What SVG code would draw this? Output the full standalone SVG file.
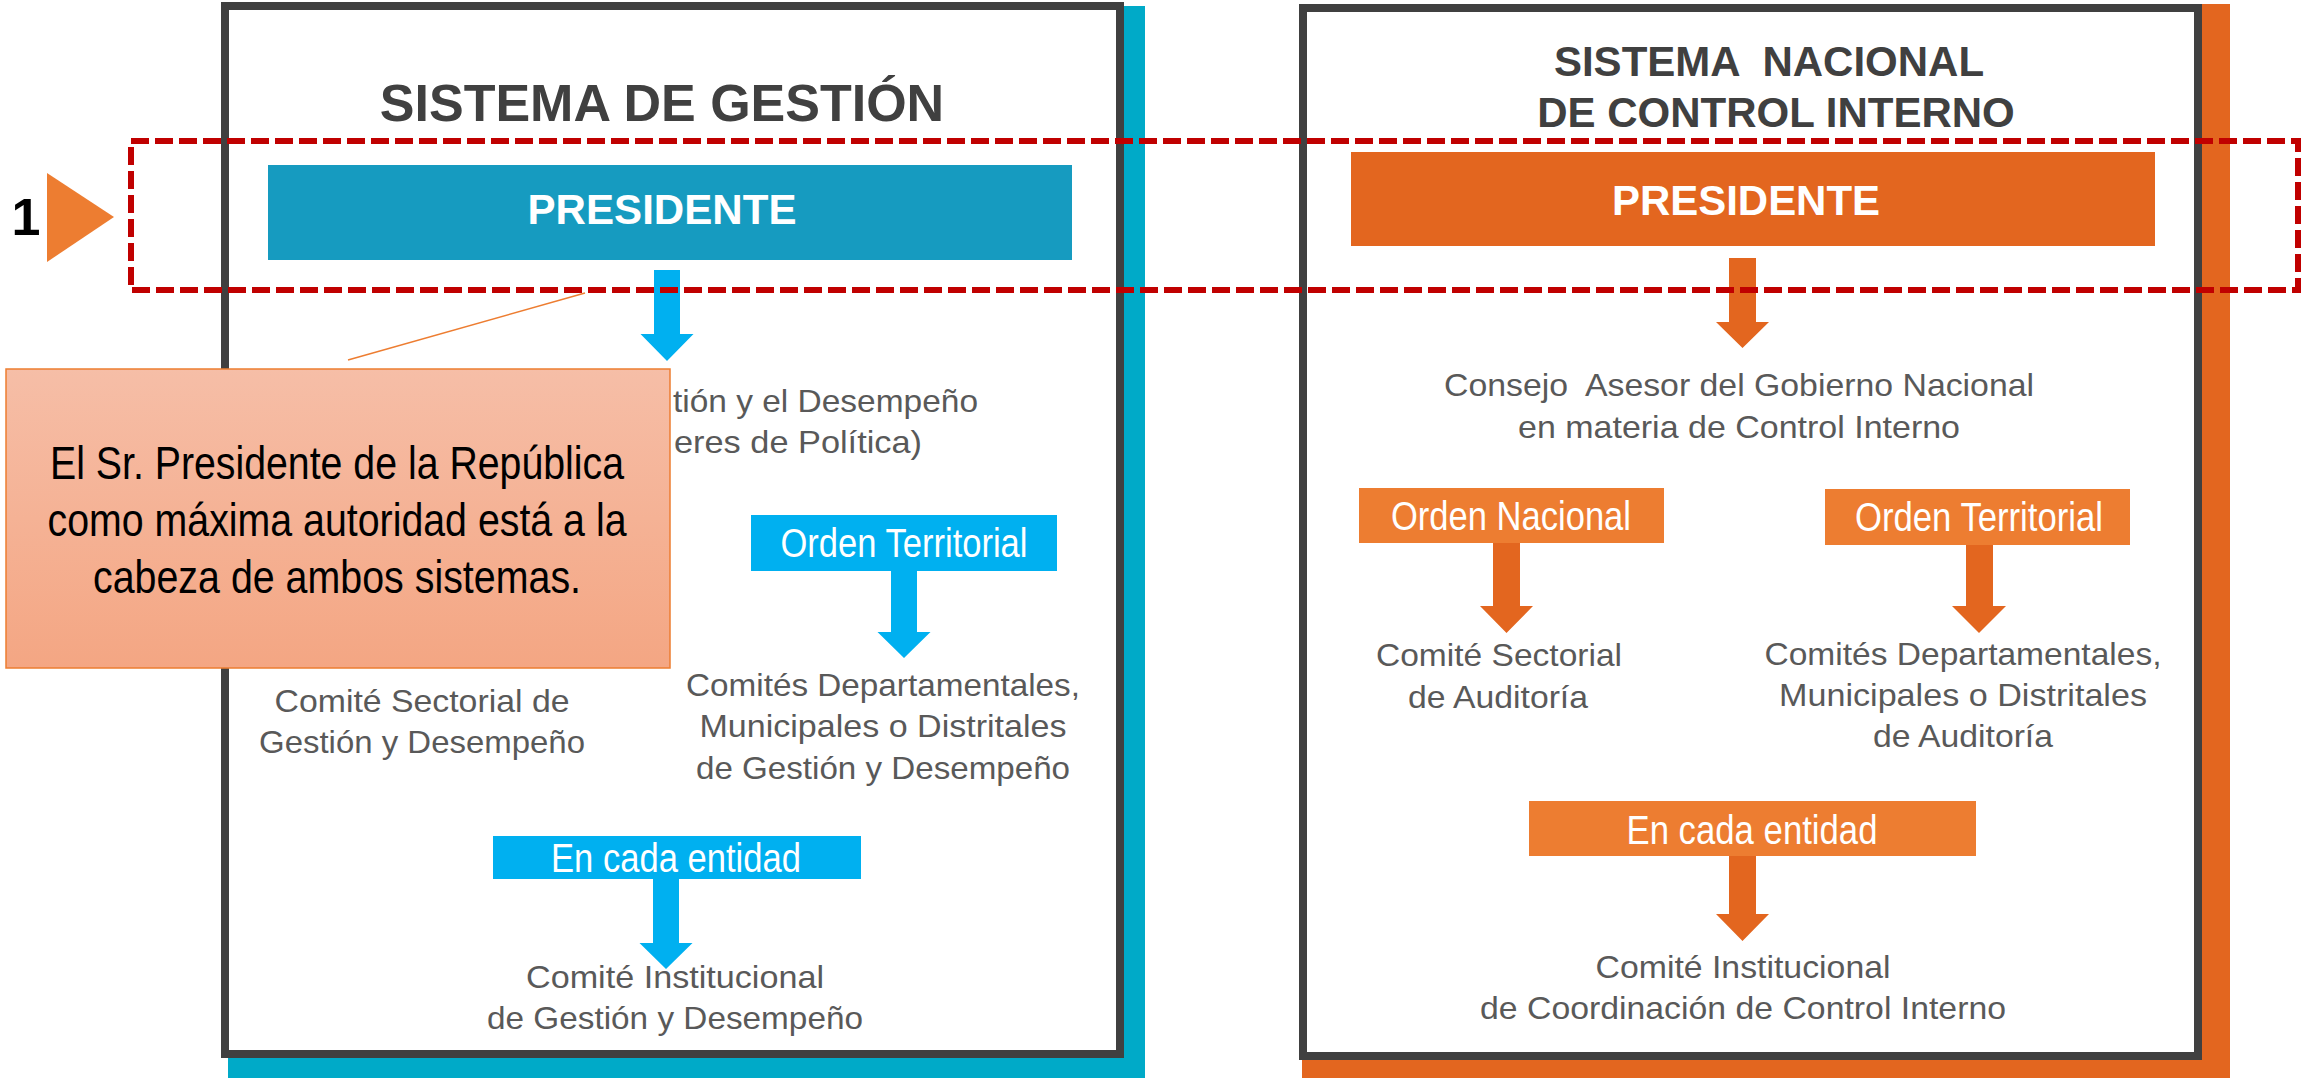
<svg xmlns="http://www.w3.org/2000/svg" width="2301" height="1078" viewBox="0 0 2301 1078">
<defs>
<linearGradient id="calloutGrad" x1="0" y1="0" x2="0" y2="1">
<stop offset="0" stop-color="#F6BEA7"/>
<stop offset="1" stop-color="#F4A683"/>
</linearGradient>
<style>
.frame{fill:#FFFFFF;stroke:#404040;stroke-width:8}
.title{font-family:"Liberation Sans",Arial,sans-serif;font-weight:bold;fill:#404040;text-anchor:middle}
.pres{font-family:"Liberation Sans",Arial,sans-serif;font-weight:bold;fill:#FFFFFF;text-anchor:middle;font-size:42px}
.lbl{font-family:"Liberation Sans Narrow","Liberation Sans",Arial,sans-serif;fill:#FFFFFF;text-anchor:middle;font-size:40px}
.gray{font-family:"Liberation Sans Narrow","Liberation Sans",Arial,sans-serif;fill:#595959;text-anchor:middle;font-size:32px}
.grayL{font-family:"Liberation Sans Narrow","Liberation Sans",Arial,sans-serif;fill:#595959;text-anchor:start;font-size:32px}
.blueArrow{fill:#00B0F0}
.orangeArrow{fill:#E3661F}
.callTxt{font-family:"Liberation Sans Narrow","Liberation Sans",Arial,sans-serif;fill:#000000;text-anchor:middle;font-size:46px}
</style>
</defs>
<rect width="2301" height="1078" fill="#FFFFFF"/>

<g id="frame-gestion">
<rect x="228" y="6" width="917" height="1072" fill="#00AAC8"/>
<rect class="frame" x="225" y="6" width="895" height="1048"/>
<text class="title" x="662" y="121" font-size="52">SISTEMA DE GESTIÓN</text>
</g>

<g id="frame-control">
<rect x="1302" y="4" width="928" height="1074" fill="#E3661F"/>
<rect class="frame" x="1303" y="8" width="895" height="1048"/>
<text class="title" x="1769" y="76" font-size="42" xml:space="preserve">SISTEMA  NACIONAL</text>
<text class="title" x="1776" y="127" font-size="42">DE CONTROL INTERNO</text>
</g>

<g id="connectors">
<polygon class="blueArrow" points="654,270 680,270 680,334 693.5,334 667,361 640.5,334 654,334"/>
<polygon class="blueArrow" points="891,571 917,571 917,632 930.5,632 904,658 877.5,632 891,632"/>
<polygon class="blueArrow" points="653,879 679,879 679,943 692.5,943 666,969 639.5,943 653,943"/>
<polygon class="orangeArrow" points="1729,258 1756,258 1756,322 1769,322 1742.5,348 1716,322 1729,322"/>
<polygon class="orangeArrow" points="1493,543 1520,543 1520,606 1533,606 1506.5,633 1480,606 1493,606"/>
<polygon class="orangeArrow" points="1966,545 1993,545 1993,606 2006,606 1979,633 1952,606 1966,606"/>
<polygon class="orangeArrow" points="1729,856 1756,856 1756,914 1769,914 1742.5,941 1716,914 1729,914"/>
</g>

<g id="presidente-gestion">
<rect x="268" y="165" width="804" height="95" fill="#169BC0"/>
<text class="pres" x="662" y="224" textLength="269" lengthAdjust="spacingAndGlyphs">PRESIDENTE</text>
</g>

<g id="consejo-gestion">
<text class="grayL" x="673" y="412" textLength="305" lengthAdjust="spacingAndGlyphs">tión y el Desempeño</text>
<text class="grayL" x="674" y="453" textLength="248" lengthAdjust="spacingAndGlyphs">eres de Política)</text>
</g>

<g id="orden-territorial-gestion">
<rect x="751" y="515" width="306" height="56" fill="#00B0F0"/>
<text class="lbl" x="904" y="557" textLength="247" lengthAdjust="spacingAndGlyphs">Orden Territorial</text>
</g>

<g id="comite-sectorial-gestion">
<text class="gray" x="422" y="712" textLength="295" lengthAdjust="spacingAndGlyphs">Comité Sectorial de</text>
<text class="gray" x="422" y="753" textLength="326" lengthAdjust="spacingAndGlyphs">Gestión y Desempeño</text>
</g>

<g id="comites-territoriales-gestion">
<text class="gray" x="883" y="696" textLength="394" lengthAdjust="spacingAndGlyphs">Comités Departamentales,</text>
<text class="gray" x="883" y="737" textLength="367" lengthAdjust="spacingAndGlyphs">Municipales o Distritales</text>
<text class="gray" x="883" y="779" textLength="374" lengthAdjust="spacingAndGlyphs">de Gestión y Desempeño</text>
</g>

<g id="entidad-gestion">
<rect x="493" y="836" width="368" height="43" fill="#00B0F0"/>
<text class="lbl" x="676" y="872" textLength="250" lengthAdjust="spacingAndGlyphs">En cada entidad</text>
</g>

<g id="comite-institucional-gestion">
<text class="gray" x="675" y="988" textLength="298" lengthAdjust="spacingAndGlyphs">Comité Institucional</text>
<text class="gray" x="675" y="1029" textLength="376" lengthAdjust="spacingAndGlyphs">de Gestión y Desempeño</text>
</g>

<g id="presidente-control">
<rect x="1351" y="152" width="804" height="94" fill="#E3661F"/>
<text class="pres" x="1746" y="215" textLength="268" lengthAdjust="spacingAndGlyphs">PRESIDENTE</text>
</g>

<g id="consejo-control">
<text class="gray" x="1739" y="396" textLength="590" lengthAdjust="spacingAndGlyphs" xml:space="preserve">Consejo  Asesor del Gobierno Nacional</text>
<text class="gray" x="1739" y="438" textLength="442" lengthAdjust="spacingAndGlyphs">en materia de Control Interno</text>
</g>

<g id="orden-nacional-control">
<rect x="1359" y="488" width="305" height="55" fill="#ED7D31"/>
<text class="lbl" x="1511" y="530" textLength="240" lengthAdjust="spacingAndGlyphs">Orden Nacional</text>
</g>

<g id="orden-territorial-control">
<rect x="1825" y="489" width="305" height="56" fill="#ED7D31"/>
<text class="lbl" x="1979" y="531" textLength="248" lengthAdjust="spacingAndGlyphs">Orden Territorial</text>
</g>

<g id="comite-sectorial-control">
<text class="gray" x="1499" y="666" textLength="246" lengthAdjust="spacingAndGlyphs">Comité Sectorial</text>
<text class="gray" x="1498" y="708" textLength="180" lengthAdjust="spacingAndGlyphs">de Auditoría</text>
</g>

<g id="comites-territoriales-control">
<text class="gray" x="1963" y="665" textLength="397" lengthAdjust="spacingAndGlyphs">Comités Departamentales,</text>
<text class="gray" x="1963" y="706" textLength="368" lengthAdjust="spacingAndGlyphs">Municipales o Distritales</text>
<text class="gray" x="1963" y="747" textLength="180" lengthAdjust="spacingAndGlyphs">de Auditoría</text>
</g>

<g id="entidad-control">
<rect x="1529" y="801" width="447" height="55" fill="#ED7D31"/>
<text class="lbl" x="1752" y="844" textLength="251" lengthAdjust="spacingAndGlyphs">En cada entidad</text>
</g>

<g id="comite-institucional-control">
<text class="gray" x="1743" y="978" textLength="295" lengthAdjust="spacingAndGlyphs">Comité Institucional</text>
<text class="gray" x="1743" y="1019" textLength="526" lengthAdjust="spacingAndGlyphs">de Coordinación de Control Interno</text>
</g>

<g id="highlight-1">
<rect x="131" y="141" width="2167" height="149" fill="none" stroke="#C00000" stroke-width="6" stroke-dasharray="18 6"/>
<polygon points="47,173 114,217 47,262" fill="#ED7D31"/>
<text x="26" y="235" font-family="'Liberation Sans',Arial,sans-serif" font-weight="bold" font-size="52" fill="#000000" text-anchor="middle">1</text>
</g>

<g id="callout">
<line x1="348" y1="360" x2="585" y2="293" stroke="#ED7D31" stroke-width="1.5"/>
<rect x="6" y="369" width="664" height="299" fill="url(#calloutGrad)" stroke="#ED7D31" stroke-width="1.5"/>
<text class="callTxt" x="337" y="479" textLength="574" lengthAdjust="spacingAndGlyphs">El Sr. Presidente de la República</text>
<text class="callTxt" x="337" y="536" textLength="579" lengthAdjust="spacingAndGlyphs">como máxima autoridad está a la</text>
<text class="callTxt" x="337" y="593" textLength="488" lengthAdjust="spacingAndGlyphs">cabeza de ambos sistemas.</text>
</g>
</svg>
